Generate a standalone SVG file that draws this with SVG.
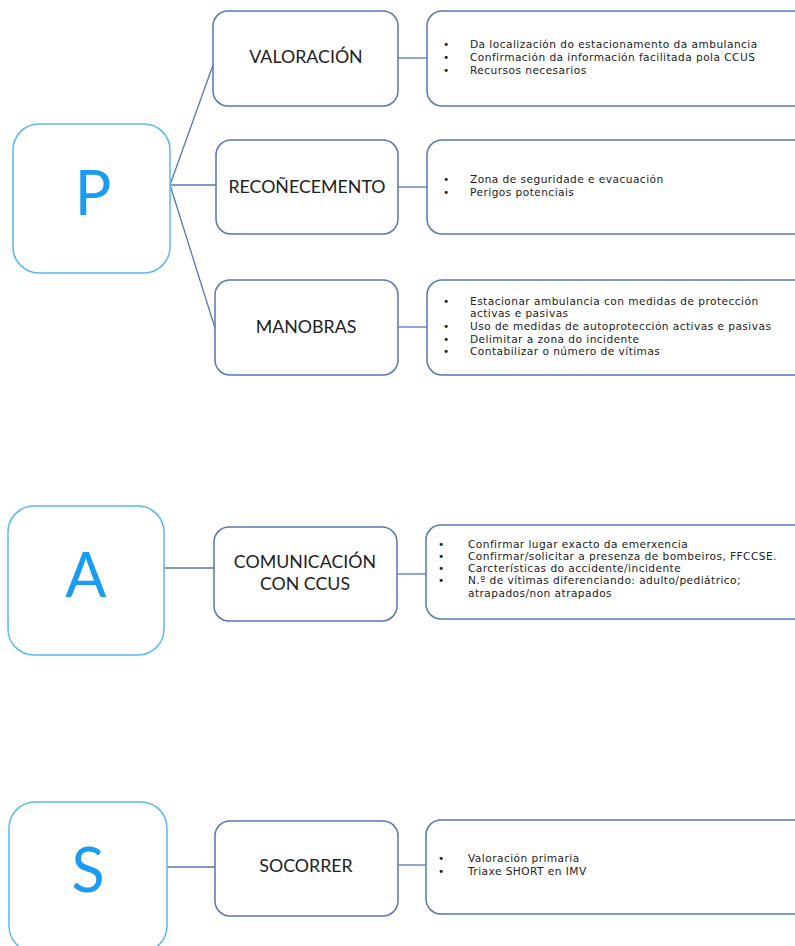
<svg xmlns="http://www.w3.org/2000/svg" width="795" height="946" viewBox="0 0 795 946">
<style>
.big{fill:#fff;stroke:#5cb8f4;stroke-width:1.5}
.mid{fill:#fff;stroke:#5678b4;stroke-width:1.5}
.det{fill:#fff;stroke:#5678b4;stroke-width:1.5}
.letter{font-family:Lato,"Liberation Sans",sans-serif;font-size:61px;fill:#1a9cf2;text-anchor:middle}
.head{font-family:Lato,"Liberation Sans",sans-serif;font-size:17.8px;fill:#222;text-anchor:middle}
.body{font-family:"DejaVu Sans","Noto Sans",sans-serif;font-size:10.6px;letter-spacing:0.45px;fill:#222}
.conn{stroke:#5678b4;stroke-width:1.3;fill:none}
</style>
<rect width="795" height="946" fill="#fff"/>
<g id="connectors">
<line class="conn" x1="170" y1="185" x2="213" y2="65"/>
<line class="conn" x1="170" y1="185" x2="216" y2="185"/>
<line class="conn" x1="170" y1="185" x2="215" y2="328"/>
<line class="conn" x1="398" y1="58" x2="427" y2="58"/>
<line class="conn" x1="398" y1="187" x2="427" y2="187"/>
<line class="conn" x1="398" y1="327" x2="427" y2="327"/>
<line class="conn" x1="164" y1="568" x2="214" y2="568"/>
<line class="conn" x1="397" y1="574" x2="426" y2="574"/>
<line class="conn" x1="167" y1="867" x2="215" y2="867"/>
<line class="conn" x1="398" y1="865" x2="426" y2="865"/>
</g>
<g id="P">
<rect class="big" x="13" y="124" width="157" height="149" rx="26"/>
<text class="letter" x="93" y="215">P</text>
</g>
<g id="valoracion">
<rect class="mid" x="213" y="11" width="185" height="95" rx="15"/>
<text class="head" x="306" y="63">VALORACIÓN</text>
</g>
<g id="reconecemento">
<rect class="mid" x="216" y="140" width="182" height="94" rx="15"/>
<text class="head" x="307" y="193">RECOÑECEMENTO</text>
</g>
<g id="manobras">
<rect class="mid" x="215" y="280" width="183" height="95" rx="15"/>
<text class="head" x="306" y="333">MANOBRAS</text>
</g>
<g id="valoracion-det">
<rect class="det" x="427" y="11" width="390" height="95" rx="15"/>
<text class="body"><tspan x="443" y="48">•</tspan><tspan x="470" y="48">Da localización do estacionamento da ambulancia</tspan><tspan x="443" y="61">•</tspan><tspan x="470" y="61">Confirmación da información facilitada pola CCUS</tspan><tspan x="443" y="74">•</tspan><tspan x="470" y="74">Recursos necesarios</tspan></text>
</g>
<g id="reconecemento-det">
<rect class="det" x="427" y="140" width="390" height="94" rx="15"/>
<text class="body"><tspan x="443" y="183">•</tspan><tspan x="470" y="183">Zona de seguridade e evacuación</tspan><tspan x="443" y="196">•</tspan><tspan x="470" y="196">Perigos potenciais</tspan></text>
</g>
<g id="manobras-det">
<rect class="det" x="427" y="280" width="390" height="95" rx="15"/>
<text class="body"><tspan x="443" y="305">•</tspan><tspan x="470" y="305">Estacionar ambulancia con medidas de protección</tspan><tspan x="470" y="317">activas e pasivas</tspan><tspan x="443" y="330">•</tspan><tspan x="470" y="330">Uso de medidas de autoprotección activas e pasivas</tspan><tspan x="443" y="343">•</tspan><tspan x="470" y="343">Delimitar a zona do incidente</tspan><tspan x="443" y="355">•</tspan><tspan x="470" y="355">Contabilizar o número de vítimas</tspan></text>
</g>
<g id="A">
<rect class="big" x="8" y="506" width="156" height="149" rx="26"/>
<text class="letter" x="86" y="597">A</text>
</g>
<g id="comunicacion">
<rect class="mid" x="214" y="527" width="183" height="94" rx="15"/>
<text class="head"><tspan x="305" y="568">COMUNICACIÓN</tspan><tspan x="305" y="590">CON CCUS</tspan></text>
</g>
<g id="comunicacion-det">
<rect class="det" x="426" y="525" width="390" height="94" rx="15"/>
<text class="body"><tspan x="438" y="548">•</tspan><tspan x="468" y="548">Confirmar lugar exacto da emerxencia</tspan><tspan x="438" y="560">•</tspan><tspan x="468" y="560">Confirmar/solicitar a presenza de bombeiros, FFCCSE.</tspan><tspan x="438" y="572">•</tspan><tspan x="468" y="572">Carcterísticas do accidente/incidente</tspan><tspan x="438" y="584">•</tspan><tspan x="468" y="584">N.º de vítimas diferenciando: adulto/pediátrico;</tspan><tspan x="468" y="597">atrapados/non atrapados</tspan></text>
</g>
<g id="S">
<rect class="big" x="9" y="802" width="158" height="150" rx="26"/>
<text class="letter" x="88" y="892">S</text>
</g>
<g id="socorrer">
<rect class="mid" x="215" y="821" width="183" height="95" rx="15"/>
<text class="head" x="306" y="872">SOCORRER</text>
</g>
<g id="socorrer-det">
<rect class="det" x="426" y="820" width="390" height="94" rx="15"/>
<text class="body"><tspan x="438" y="862">•</tspan><tspan x="468" y="862">Valoración primaria</tspan><tspan x="438" y="875">•</tspan><tspan x="468" y="875">Triaxe SHORT en IMV</tspan></text>
</g>
</svg>
